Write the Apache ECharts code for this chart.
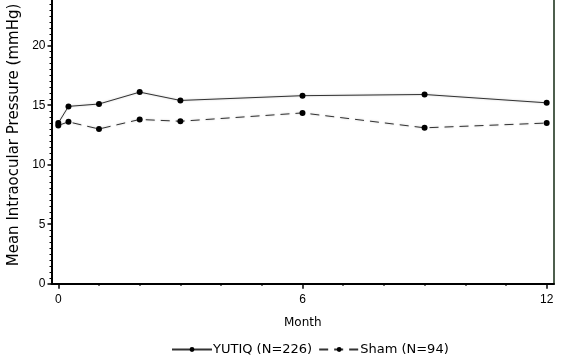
<!DOCTYPE html>
<html><head><meta charset="utf-8">
<script src="https://cdn.jsdelivr.net/npm/echarts@6/dist/echarts.min.js"></script>
<style>html,body{margin:0;padding:0;background:#fff}#c{width:567px;height:361px}</style>
</head><body><div id="c"></div><script>
const months = [0, 0.25, 1, 2, 3, 6, 9, 12];
const yutiq = [13.5, 14.9, 15.1, 16.1, 15.4, 15.8, 15.9, 15.2];
const sham = [13.3, 13.6, 13.0, 13.8, 13.65, 14.35, 13.1, 13.5];
const xLabelValues = [0, 6, 12];
const xMinorValues = [1, 2, 3, 4, 5, 7, 8, 9, 10, 11];
const seriesNames = ['YUTIQ (N=226)', 'Sham (N=94)'];
const yTitle = 'Mean Intraocular Pressure (mmHg)';
const xTitle = 'Month';

const font = 'DejaVu Sans';
const chart = echarts.init(document.getElementById('c'), null, {renderer: 'canvas'});
const xMin = -0.167, xMax = 12.18;
chart.setOption({
  animation: false,
  backgroundColor: '#fff',
  grid: {left: 51.5, right: 13, top: -13.8, bottom: 77.3, outerBoundsMode: 'none', containLabel: false},
  legend: {
    bottom: 0, left: 166, itemWidth: 40, itemHeight: 6, itemGap: 6,
    textStyle: {fontFamily: font, fontSize: 13, color: '#000', padding: [0, 0, 0, -4]},
    data: seriesNames
  },
  xAxis: [{
    type: 'value', min: xMin, max: xMax, position: 'bottom',
    axisLine: {onZero: false, lineStyle: {color: '#000', width: 2}},
    axisTick: {customValues: xLabelValues, length: 5, lineStyle: {color: '#000', width: 1.5}},
    axisLabel: {customValues: xLabelValues, margin: 10, fontFamily: 'Liberation Sans', fontSize: 12, color: '#000'},
    splitLine: {show: false},
    name: xTitle, nameLocation: 'middle', nameGap: 33,
    nameTextStyle: {fontFamily: font, fontSize: 12, color: '#000'}
  }, {
    type: 'value', min: xMin, max: xMax, position: 'bottom',
    axisLine: {show: false, onZero: false},
    axisTick: {customValues: xMinorValues, length: 2, lineStyle: {color: '#000', width: 1.5}},
    axisLabel: {show: false},
    splitLine: {show: false}
  }],
  yAxis: [{
    type: 'value', min: 0, max: 25, interval: 5, position: 'left',
    axisLine: {onZero: false, lineStyle: {color: '#000', width: 2}},
    axisTick: {length: 4, lineStyle: {color: '#000', width: 1.5}},
    minorTick: {show: true, splitNumber: 10, length: 2, lineStyle: {color: '#000', width: 1}},
    axisLabel: {margin: 6, fontFamily: 'Liberation Sans', fontSize: 12, color: '#000'},
    splitLine: {show: false},
    name: yTitle, nameLocation: 'middle', nameGap: 30,
    nameTextStyle: {fontFamily: font, fontSize: 15, color: '#000'}
  }, {
    type: 'value', min: 0, max: 25, position: 'right',
    axisLine: {show: true, onZero: false, lineStyle: {color: '#4d5f4d', width: 2}},
    axisTick: {show: false}, axisLabel: {show: false}, splitLine: {show: false}
  }],
  series: [{
    name: seriesNames[0], type: 'line', xAxisIndex: 0, yAxisIndex: 0,
    data: months.map((m, i) => [m, yutiq[i]]),
    symbol: 'circle', symbolSize: 6,
    itemStyle: {color: '#000'},
    lineStyle: {color: '#333', width: 1, shadowColor: 'rgba(0,0,0,0.25)', shadowBlur: 2}
  }, {
    name: seriesNames[1], type: 'line', xAxisIndex: 0, yAxisIndex: 0,
    data: months.map((m, i) => [m, sham[i]]),
    symbol: 'circle', symbolSize: 6,
    itemStyle: {color: '#000'},
    lineStyle: {color: '#333', width: 1, type: [9, 6], shadowColor: 'rgba(0,0,0,0.25)', shadowBlur: 2}
  }]
});
</script></body></html>
